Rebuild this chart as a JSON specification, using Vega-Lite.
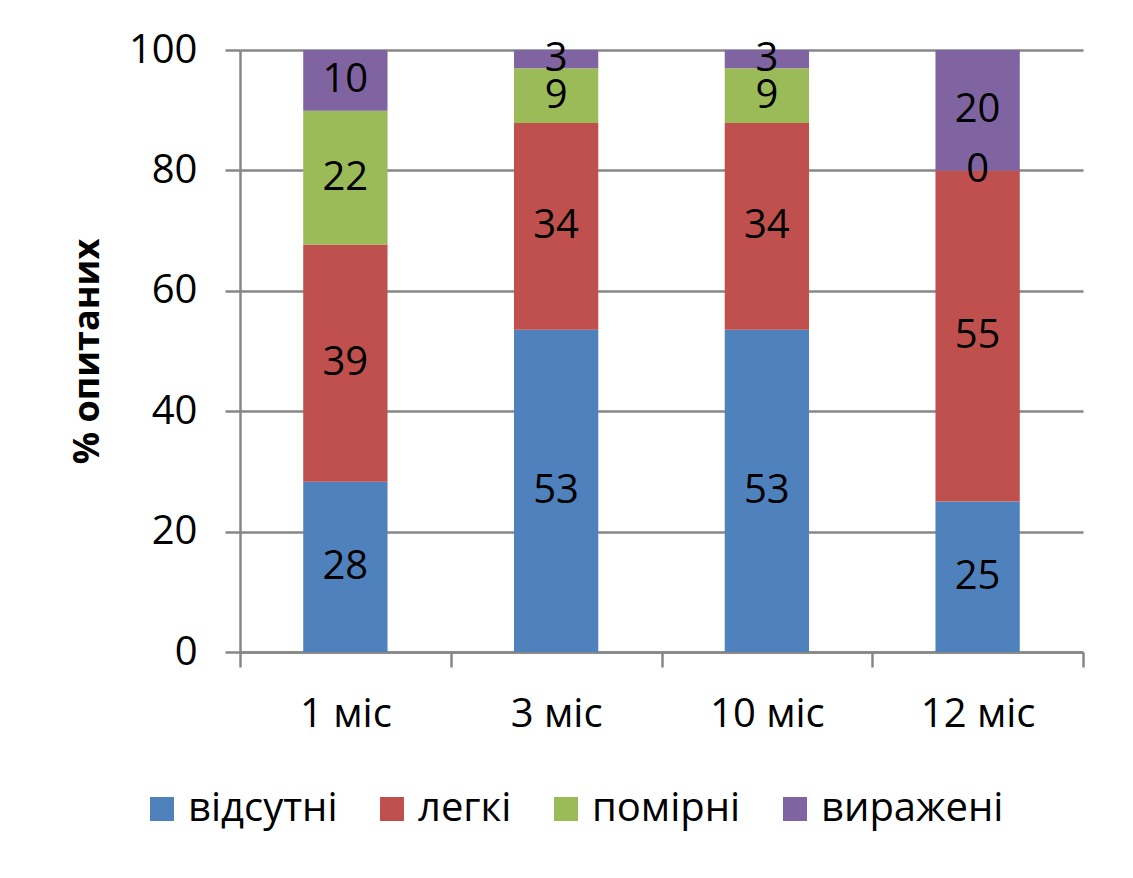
{
  "$schema": "https://vega.github.io/schema/vega-lite/v6.json",
  "width": 843,
  "height": 602,
  "autosize": "none",
  "padding": {"left": 240, "top": 50, "right": 50, "bottom": 226},
  "background": "white",
  "config": {
    "font": "Open Sans",
    "view": {"stroke": null}
  },
  "data": {
    "values": [
      {"month": "1 міс", "category": "відсутні", "k": 1, "value": 28},
      {"month": "1 міс", "category": "легкі", "k": 2, "value": 39},
      {"month": "1 міс", "category": "помірні", "k": 3, "value": 22},
      {"month": "1 міс", "category": "виражені", "k": 4, "value": 10},
      {"month": "3 міс", "category": "відсутні", "k": 1, "value": 53},
      {"month": "3 міс", "category": "легкі", "k": 2, "value": 34},
      {"month": "3 міс", "category": "помірні", "k": 3, "value": 9},
      {"month": "3 міс", "category": "виражені", "k": 4, "value": 3},
      {"month": "10 міс", "category": "відсутні", "k": 1, "value": 53},
      {"month": "10 міс", "category": "легкі", "k": 2, "value": 34},
      {"month": "10 міс", "category": "помірні", "k": 3, "value": 9},
      {"month": "10 міс", "category": "виражені", "k": 4, "value": 3},
      {"month": "12 міс", "category": "відсутні", "k": 1, "value": 25},
      {"month": "12 міс", "category": "легкі", "k": 2, "value": 55},
      {"month": "12 міс", "category": "помірні", "k": 3, "value": 0},
      {"month": "12 міс", "category": "виражені", "k": 4, "value": 20}
    ]
  },
  "transform": [
    {"stack": "value", "groupby": ["month"], "sort": [{"field": "k", "order": "ascending"}], "offset": "normalize", "as": ["v0", "v1"]},
    {"calculate": "(datum.v0 + datum.v1) / 2", "as": "mid"}
  ],
  "encoding": {
    "x": {
      "field": "month",
      "type": "nominal",
      "sort": null,
      "scale": {"paddingInner": 0, "paddingOuter": 0},
      "axis": {
        "title": null,
        "labelAngle": 0,
        "labelFontSize": 40,
        "labelColor": "black",
        "labelPadding": 27,
        "tickBand": "extent",
        "tickSize": 15,
        "tickWidth": 2.5,
        "tickColor": "#878787",
        "domainColor": "#878787",
        "domainWidth": 2.5,
        "grid": false
      }
    }
  },
  "layer": [
    {
      "mark": {"type": "bar", "width": {"band": 0.4}},
      "encoding": {
        "y": {
          "field": "v0",
          "type": "quantitative",
          "scale": {"domain": [0, 1]},
          "axis": {
            "title": "% опитаних",
            "titleFontSize": 36,
            "titleFontWeight": "bold",
            "titleColor": "black",
            "titleAngle": -90,
            "titleBaseline": "middle",
            "titleX": -153,
            "titleY": 301,
            "values": [0, 0.2, 0.4, 0.6, 0.8, 1],
            "labelExpr": "format(datum.value * 100, '.0f')",
            "labelFontSize": 40,
            "labelColor": "black",
            "labelPadding": 28,
            "tickSize": 15,
            "tickWidth": 2.5,
            "tickColor": "#878787",
            "domainColor": "#878787",
            "domainWidth": 2.5,
            "grid": true,
            "gridColor": "#878787",
            "gridWidth": 2.5
          }
        },
        "y2": {"field": "v1"},
        "color": {
          "field": "category",
          "type": "nominal",
          "scale": {
            "domain": ["відсутні", "легкі", "помірні", "виражені"],
            "range": ["#4F81BD", "#C0504D", "#9BBB59", "#8064A2"]
          },
          "legend": {
            "title": null,
            "orient": "none",
            "direction": "horizontal",
            "legendX": -98,
            "legendY": 739,
            "symbolType": "square",
            "symbolSize": 576,
            "symbolStrokeWidth": 0,
            "symbolOpacity": 1,
            "labelFontSize": 40,
            "labelColor": "black",
            "labelOffset": 6,
            "columnPadding": 34,
            "labelLimit": 400
          }
        }
      }
    },
    {
      "mark": {"type": "text", "fontSize": 40, "color": "black", "baseline": "middle", "align": "center"},
      "encoding": {
        "y": {"field": "mid", "type": "quantitative"},
        "text": {"field": "value", "type": "quantitative"}
      }
    }
  ]
}
